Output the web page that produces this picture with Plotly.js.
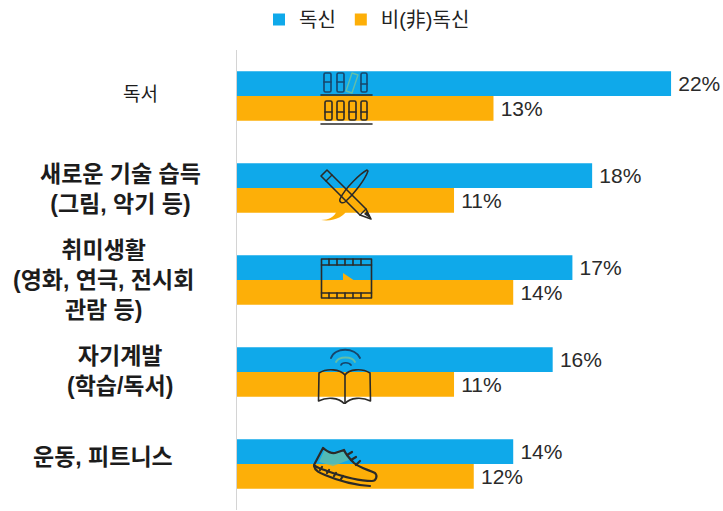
<!DOCTYPE html>
<html>
<head>
<meta charset="utf-8">
<script src="https://cdn.plot.ly/plotly-3.0.1.min.js"></script>
<style>html,body{margin:0;padding:0;background:#fff}#chart{width:723px;height:511px}</style>
</head>
<body>
<div id="chart"></div>
<script>
// Leisure activities by household type, share of respondents (%)
const categories = ['독서', '새로운 기술 습득', '취미생활', '자기계발', '운동, 피트니스'];
const singleValues = [22, 18, 17, 16, 14];
const nonSingleValues = [13, 11, 14, 11, 12];
const seriesNames = ['독신', '비(非)독신'];
const seriesColors = ['#0fa9ea', '#fdaf08'];

// Category captions: [text, centre x, centre y, size, weight]
const captions = [
  ['독서', 140, 94, 19, 'normal'],
  ['새로운 기술 습득<br>(그림, 악기 등)', 120, 188.5, 23, 'bold'],
  ['취미생활<br>(영화, 연극, 전시회<br>관람 등)', 103, 280, 23, 'bold'],
  ['자기계발<br>(학습/독서)', 120, 371, 23, 'bold'],
  ['운동, 피트니스', 103, 457, 23, 'bold']
];

const W = 723, H = 511;
const margin = {l: 237, r: 0, t: 50, b: 1};
const plotW = W - margin.l - margin.r, plotH = H - margin.t - margin.b;
const paperX = px => (px - margin.l) / plotW;
const paperY = py => 1 - (py - margin.t) / plotH;

const LABEL_FONT = '"Liberation Sans", "Noto Sans CJK KR", sans-serif';
const INK = '#2b2a28', NAVY = '#17456b', TEAL = '#63bda8', AMBER = '#fdaf08';
const line = (c, w) => `fill="none" stroke="${c}" stroke-width="${w}" stroke-linecap="round" stroke-linejoin="round"`;

// Pictograms laid over the bars
const icons = [
  { box: [318, 70, 58, 58], body: `
    <g ${line(NAVY, 1.6)}>
      <rect x="324" y="73" width="7" height="19" rx="1.5"/><rect x="337" y="73" width="7" height="19" rx="1.5"/>
      <rect x="361" y="73" width="6" height="19" rx="1.5"/><path d="M324 82h7M337 82h7M361 84h6"/>
    </g>
    <path d="M352 73l6 2-6 18-6-2z" ${line(TEAL, 1.4)}/>
    <g ${line(INK, 1.6)}>
      <rect x="325" y="101" width="7" height="19" rx="1.5"/><rect x="337" y="101" width="7" height="19" rx="1.5"/>
      <rect x="349" y="101" width="7" height="19" rx="1.5"/><rect x="361" y="101" width="6" height="19" rx="1.5"/>
      <path d="M325 112h7M337 112h7M349 112h7M361 112h6"/>
      <path d="M321 95h51M321 124h51"/>
    </g>` },
  { box: [316, 165, 60, 60], body: `
    <path d="M321 220c8 0 13-3 16-9l4-7 6 5c-2 8-14 13-26 11z" fill="${AMBER}"/>
    <path d="M367 170c-6 3-22 18-27 29-1 3 2 5 5 3 8-7 20-22 23-31z" ${line(INK, 1.5)}/>
    <path d="M321 176l6-6 39 39 5 10-11-4z" ${line(INK, 1.6)}/>
    <path d="M326 181l6-6" ${line(INK, 1.4)}/>
    <path d="M360 215l6-6" ${line(INK, 1.4)}/>
    <path d="M364 214l7 5-4-8z" fill="${INK}"/>` },
  { box: [318, 256, 58, 46], body: `
    <path d="M343 273l6 4 6 4h-12z" fill="${AMBER}"/>
    <g ${line(INK, 1.6)}>
      <rect x="321.5" y="259" width="50" height="39"/>
      <path d="M321.5 265h50M321.5 293h50"/>
      <path d="M329 259v6M337 259v6M345 259v6M353 259v6M361 259v6M329 293v5M337 293v5M345 293v5M353 293v5M361 293v5"/>
    </g>` },
  { box: [316, 346, 60, 58], body: `
    <g ${line(NAVY, 1.9)}>
      <path d="M331 358c4-11 24-11 29 0"/>
    </g>
    <path d="M336 362c3-6 16-6 19 0" ${line(TEAL, 1.9)}/>
    <path d="M341 365c1-3 8-3 10 0" ${line(NAVY, 1.7)}/>
    <g ${line(INK, 1.6)}>
      <path d="M345 375c-5-6-18-7-26-2l-.5 28c8-4 20-4 26 3c6-7 18-7 26-3l-.5-28c-8-5-21-4-25 2z"/>
      <path d="M345 375v29"/>
    </g>` },
  { box: [310, 442, 72, 46], body: `
    <path d="M319 462l6-13 9 5 10-3 5 9-16 6z" fill="${TEAL}" opacity="0.8"/>
    <g ${line(INK, 2.2)}>
      <path d="M314 465l9-17c4 3 7 6 12 5l9-3c2 5 6 9 10 13 6 5 15 7 21 10 3 3 1 8-3 8-12 0-31-5-45-10-5-2-10-3-13-6z"/>
      <path d="M314 466c1 5 6 7 11 9 14 6 30 10 45 11"/>
      <path d="M347 455l5-3M351 460l5-3M356 465l4-4"/>
      <path d="M320 470l2-3M327 473l2-3M334 476l2-3M341 479l2-3"/>
    </g>` }
];

const svgUri = ({box, body}) => 'data:image/svg+xml;utf8,' + encodeURIComponent(
  `<svg xmlns="http://www.w3.org/2000/svg" width="${box[2]}" height="${box[3]}" viewBox="${box.join(' ')}">${body}</svg>`);

const images = icons.map(ic => ({
  source: svgUri(ic), xref: 'paper', yref: 'paper',
  x: paperX(ic.box[0]), y: paperY(ic.box[1]),
  sizex: ic.box[2] / plotW, sizey: ic.box[3] / plotH,
  xanchor: 'left', yanchor: 'top', sizing: 'stretch', layer: 'above'
}));

const annotations = captions.map(([text, cx, cy, size, weight]) => ({
  text, xref: 'paper', yref: 'paper', x: paperX(cx), y: paperY(cy),
  xanchor: 'center', yanchor: 'middle', align: 'center', showarrow: false,
  font: {family: LABEL_FONT, size, color: '#1c1c1c', weight}
}));

const makeTrace = (values, i) => ({
  type: 'bar', orientation: 'h', name: seriesNames[i],
  y: categories, x: values,
  marker: {color: seriesColors[i]},
  text: values.map(v => '\u2009' + v + '%'), textposition: 'outside', cliponaxis: false,
  textfont: {family: '"Liberation Sans", Arial, sans-serif', size: 21, color: '#2a2a2a'},
  hoverinfo: 'x+name'
});

Plotly.newPlot('chart', [makeTrace(singleValues, 0), makeTrace(nonSingleValues, 1)], {
  width: W, height: H, margin, showlegend: true,
  paper_bgcolor: '#fff', plot_bgcolor: '#fff',
  barmode: 'group', bargap: 0.46, bargroupgap: 0,
  legend: {
    orientation: 'h', xref: 'paper', yref: 'paper',
    x: paperX(259), y: paperY(0), xanchor: 'left', yanchor: 'top',
    traceorder: 'normal',
    font: {family: LABEL_FONT, size: 20, color: '#222'}
  },
  xaxis: {range: [0, plotW / 19.73], visible: false, fixedrange: true},
  yaxis: {
    type: 'category', categoryorder: 'array', categoryarray: categories,
    autorange: 'reversed', showticklabels: false, ticks: '', showgrid: false,
    showline: true, linecolor: '#d4d4d4', linewidth: 1, zeroline: false, fixedrange: true
  },
  annotations, images
}, {displayModeBar: false, staticPlot: true});
</script>
</body>
</html>
